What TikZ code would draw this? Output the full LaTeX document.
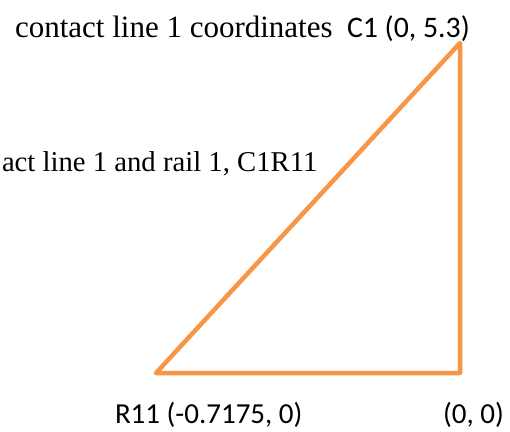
\documentclass[tikz,border=0pt]{standalone}
\usepackage{fontspec}
\setmainfont{Liberation Serif}
\newfontfamily\calfont{Carlito}
\definecolor{triorange}{HTML}{F79646}
\begin{document}
\begin{tikzpicture}[x=1pt,y=-1pt,
  lbl/.style={anchor=base west,inner sep=0pt,outer sep=0pt},
  tri/.style={draw=triorange,line width=4.5pt,line join=round,line cap=round}]
\useasboundingbox (0,0) rectangle (510,431);
\coordinate (C1) at (460,43);
\coordinate (R11) at (156,373);
\coordinate (O) at (460,373);
\draw[tri] (R11) -- (C1) -- (O) -- cycle;
\node[lbl,font=\fontsize{31}{36}\selectfont] (t1) at (15,37) {contact line 1 coordinates};
\node[lbl,font=\calfont\fontsize{29.8}{34}\selectfont] (t1b) at (347,37) {C1 (0, 5.3)};
\node[lbl,font=\fontsize{28.7}{34}\selectfont] (t2) at (2,171) {act line 1 and rail 1, C1R11};
\node[lbl,font=\calfont\fontsize{29}{34}\selectfont] (t3) at (115,423) {R11 (-0.7175, 0)};
\node[lbl,font=\calfont\fontsize{29}{34}\selectfont] (t4) at (443,423) {(0, 0)};
\end{tikzpicture}
\end{document}
